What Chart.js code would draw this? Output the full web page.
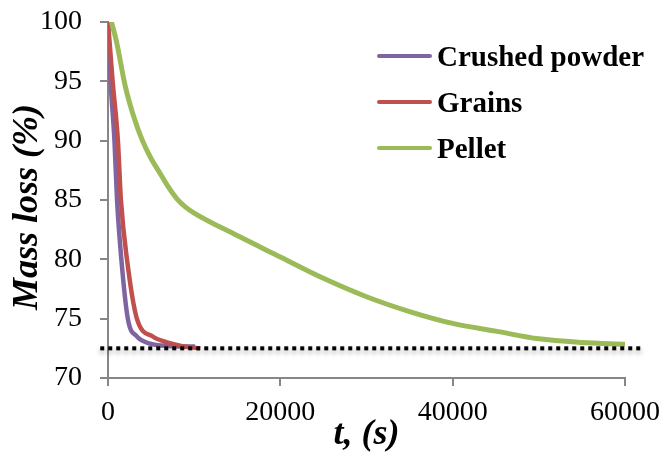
<!DOCTYPE html>
<html>
<head>
<meta charset="utf-8">
<script src="https://cdn.jsdelivr.net/npm/chart.js@4"></script>
<style>
    body { margin: 0; background: #fff; }
    #wrap { position: relative; width: 666px; height: 461px; }
    #legend { position: absolute; left: 377px; top: 33px; font-family: "Liberation Serif", serif; font-weight: bold; font-size: 29px; color: #000; }
    .item { display: flex; align-items: center; height: 46px; }
    .swatch { width: 55px; height: 4px; border-radius: 2px; margin-right: 5px; }
</style>
</head>
<body>
<div id="wrap">
    <canvas id="massChart" width="666" height="461"></canvas>
    <div id="legend"></div>
</div>
<script>
// --- DATA ---
const powderT = [0, 300, 750, 1050, 1550, 2300, 3350, 4900, 7000, 10100];
const powderM = [100, 95, 90, 85, 80, 75, 73.5, 72.9, 72.7, 72.65];

const grainsT = [0, 540, 1150, 1500, 2200, 3350, 5200, 6850, 8500, 10700];
const grainsM = [100, 95, 90, 85, 80, 75, 73.5, 73.0, 72.7, 72.5];

const pelletT = [400, 1000, 2000, 3000, 4000, 5000, 6000, 7000, 8000, 9000, 10000, 15000, 20000, 25000, 30000, 35000, 40000, 45000, 50000, 55000, 60000];
const pelletM = [100, 98.3, 94.6, 92.0, 90.0, 88.5, 87.3, 86.1, 85.1, 84.4, 83.9, 82.0, 80.2, 78.4, 76.85, 75.6, 74.6, 73.95, 73.3, 73.0, 72.85];

const limitT = [-900, 61900];
const limitM = [72.5, 72.5];

const seriesNames = ['Crushed powder', 'Grains', 'Pellet'];
const seriesColors = ['#8064A2', '#C0504D', '#9BBB59'];

const xTicks = [0, 20000, 40000, 60000];
const yTicks = [70, 75, 80, 85, 90, 95, 100];

const yTitle = 'Mass loss (%)';
const xTitle = 't, (s)';

function pts(ts, ms) {
    return ts.map((t, i) => ({ x: t, y: ms[i] }));
}

// --- LEGEND (html) ---
const legend = document.getElementById('legend');
seriesNames.forEach((name, i) => {
    const row = document.createElement('div');
    row.className = 'item';
    row.innerHTML = `<span class="swatch" style="background:${seriesColors[i]}"></span><span>${name}</span>`;
    legend.appendChild(row);
});

// soft shadow under the dotted line
const shadowPlugin = {
    id: 'shadow',
    beforeDatasetDraw(chart, args) {
        if (args.index === 3) {
            chart.ctx.save();
            chart.ctx.shadowColor = 'rgba(0,0,0,0.35)';
            chart.ctx.shadowBlur = 5;
            chart.ctx.shadowOffsetY = 3;
        }
    },
    afterDatasetDraw(chart, args) {
        if (args.index === 3) chart.ctx.restore();
    }
};

// y title sits a bit lower than the axis centre in the original
const yTitlePlugin = {
    id: 'yTitle',
    afterDraw(chart) {
        const ctx = chart.ctx;
        ctx.save();
        ctx.translate(28, 207);
        ctx.rotate(-Math.PI / 2);
        ctx.font = 'italic bold 36px "Liberation Serif"';
        ctx.fillStyle = '#000';
        ctx.textAlign = 'center';
        ctx.textBaseline = 'middle';
        ctx.fillText(yTitle, 0, 0);
        ctx.restore();
    }
};

const axisGrey = '#868686';
const tickFont = { family: 'Liberation Serif', size: 28 };
const titleFont = { family: 'Liberation Serif', size: 36, weight: 'bold', style: 'italic' };

const line = (data, color, order, width) => ({
    data: data,
    borderColor: color,
    backgroundColor: color,
    borderWidth: width,
    pointRadius: 0,
    cubicInterpolationMode: 'monotone',
    fill: false,
    order: order
});

new Chart(document.getElementById('massChart'), {
    type: 'line',
    data: {
        datasets: [
            line(pts(powderT, powderM), seriesColors[0], 3, 4.5),
            line(pts(grainsT, grainsM), seriesColors[1], 2, 4.5),
            line(pts(pelletT, pelletM), seriesColors[2], 1, 5),
            {
                data: pts(limitT, limitM),
                borderColor: '#000',
                borderWidth: 4,
                borderDash: [4, 4],
                pointRadius: 0,
                fill: false,
                clip: false,
                order: 0
            }
        ]
    },
    plugins: [shadowPlugin, yTitlePlugin],
    options: {
        responsive: false,
        animation: false,
        layout: { padding: { left: 4, right: 41, top: 22, bottom: 4 } },
        plugins: { legend: { display: false }, tooltip: { enabled: false } },
        scales: {
            x: {
                type: 'linear',
                min: 0, max: 60000,
                afterBuildTicks: (s) => { s.ticks = xTicks.map(v => ({ value: v })); },
                afterFit: (s) => { s.height = 79; s.paddingLeft = 0; s.paddingRight = 0; },
                ticks: { font: tickFont, color: '#000', padding: 10, maxRotation: 0, callback: (v) => String(v) },
                grid: { display: true, drawOnChartArea: false, tickLength: 8, color: axisGrey, lineWidth: 2 },
                border: { color: axisGrey, width: 2 },
                title: { display: true, text: xTitle, font: titleFont, color: '#000', padding: { top: 0, bottom: 1 } }
            },
            y: {
                min: 70, max: 100,
                afterBuildTicks: (s) => { s.ticks = yTicks.map(v => ({ value: v })); },
                afterFit: (s) => { s.width = 104; s.paddingTop = 0; s.paddingBottom = 0; },
                ticks: { font: tickFont, color: '#000', padding: 18 },
                grid: { display: true, drawOnChartArea: false, tickLength: 8, color: axisGrey, lineWidth: 2 },
                border: { color: axisGrey, width: 2 }
            }
        }
    }
});
</script>
</body>
</html>
